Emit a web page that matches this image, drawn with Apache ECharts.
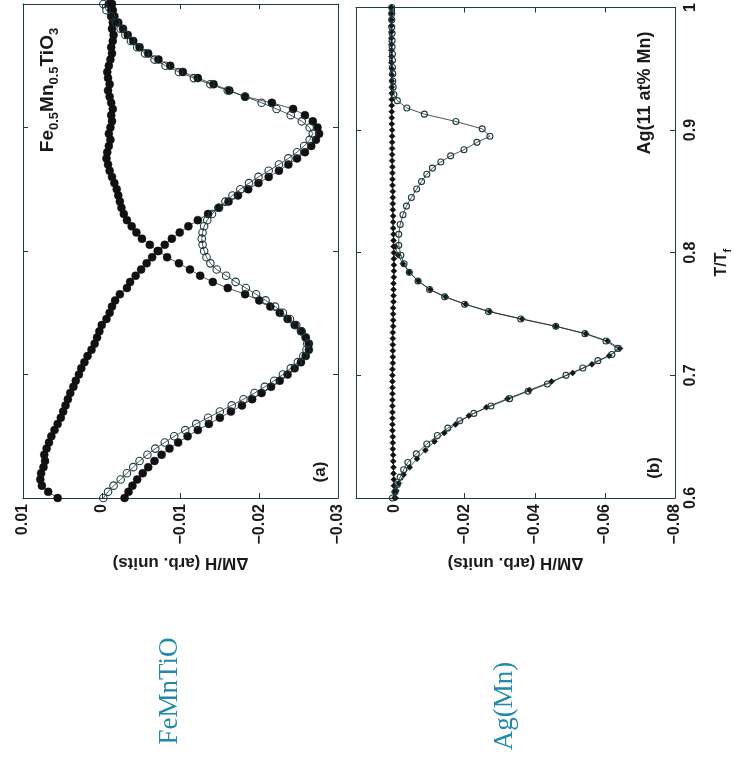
<!DOCTYPE html>
<html>
<head>
<meta charset="utf-8">
<title>ΔM/H vs T/Tf</title>
<script src="https://cdn.jsdelivr.net/npm/echarts@6/dist/echarts.min.js"></script>
<style>
  html, body { margin: 0; padding: 0; background: #ffffff; }
  #chart { width: 734px; height: 760px; }
</style>
</head>
<body>
<div id="chart"></div>
<script>
// Reduced temperature grid shared by the dense data sets
const tGrid = [
  0.600, 0.605, 0.610, 0.615, 0.620, 0.625, 0.630, 0.635, 0.640, 0.645,
  0.650, 0.655, 0.660, 0.665, 0.670, 0.675, 0.680, 0.685, 0.690, 0.695,
  0.700, 0.705, 0.710, 0.715, 0.720, 0.725, 0.730, 0.735, 0.740, 0.745,
  0.750, 0.755, 0.760, 0.765, 0.770, 0.775, 0.780, 0.785, 0.790, 0.795,
  0.800, 0.805, 0.810, 0.815, 0.820, 0.825, 0.830, 0.835, 0.840, 0.845,
  0.850, 0.855, 0.860, 0.865, 0.870, 0.875, 0.880, 0.885, 0.890, 0.895,
  0.900, 0.905, 0.910, 0.915, 0.920, 0.925, 0.930, 0.935, 0.940, 0.945,
  0.950, 0.955, 0.960, 0.965, 0.970, 0.975, 0.980, 0.985, 0.990, 0.995,
  1.000
];

// (a) Fe0.5Mn0.5TiO3 — open circles (two stops)
const feOpen = [
  -0.0002, -0.0008, -0.0015, -0.0024, -0.0032, -0.0040, -0.0048, -0.0058, -0.0068, -0.0080,
  -0.0092, -0.0106, -0.0120, -0.0135, -0.0150, -0.0165, -0.0180, -0.0194, -0.0207, -0.0219,
  -0.0230, -0.0240, -0.0249, -0.0256, -0.0260, -0.0261, -0.0259, -0.0254, -0.0247, -0.0239,
  -0.0230, -0.0220, -0.0208, -0.0196, -0.0183, -0.0170, -0.0158, -0.0146, -0.0138, -0.0133,
  -0.0130, -0.0128, -0.0127, -0.0128, -0.0130, -0.0134, -0.0140, -0.0148, -0.0157, -0.0166,
  -0.0176, -0.0187, -0.0199, -0.0212, -0.0225, -0.0237, -0.0248, -0.0257, -0.0264, -0.0268,
  -0.0264, -0.0254, -0.0240, -0.0222, -0.0203, -0.0182, -0.0160, -0.0138, -0.0117, -0.0098,
  -0.0081, -0.0067, -0.0055, -0.0045, -0.0037, -0.0030, -0.0024, -0.0018, -0.0012, -0.0006,
  -0.0002
];

// (a) filled circles following both dips
const feFilledDip = [
  -0.0029, -0.0034, -0.0039, -0.0045, -0.0052, -0.0059, -0.0067, -0.0076, -0.0086, -0.0097,
  -0.0109, -0.0122, -0.0136, -0.0150, -0.0164, -0.0178, -0.0191, -0.0203, -0.0215, -0.0226,
  -0.0236, -0.0245, -0.0253, -0.0259, -0.0263, -0.0263, -0.0259, -0.0253, -0.0245, -0.0236,
  -0.0226, -0.0214, -0.0200, -0.0182, -0.0160, -0.0141, -0.0125, -0.0112, -0.0098, -0.0083,
  -0.0072, -0.0080, -0.0089, -0.0099, -0.0110, -0.0122, -0.0135, -0.0149, -0.0161, -0.0173,
  -0.0186, -0.0199, -0.0212, -0.0225, -0.0237, -0.0248, -0.0258, -0.0266, -0.0272, -0.0276,
  -0.0274, -0.0268, -0.0258, -0.0243, -0.0216, -0.0182, -0.0162, -0.0142, -0.0122, -0.0103,
  -0.0087, -0.0072, -0.0059, -0.0048, -0.0040, -0.0033, -0.0027, -0.0021, -0.0016, -0.0012,
  -0.0009
];

// (a) filled circles, monotonic reference
const feFilledRef = [
   0.0056,  0.0068,  0.0076,  0.0078,  0.0077,  0.0074,  0.0072,  0.0073,  0.0070,  0.0067,
   0.0064,  0.0060,  0.0056,  0.0052,  0.0049,  0.0046,  0.0043,  0.0040,  0.0036,  0.0033,
   0.0029,  0.0026,  0.0022,  0.0018,  0.0013,  0.0009,  0.0006,  0.0003,  0.0000, -0.0006,
  -0.0010, -0.0013, -0.0017, -0.0023, -0.0032, -0.0036, -0.0043, -0.0050, -0.0057, -0.0064,
  -0.0071, -0.0061, -0.0051, -0.0044, -0.0038, -0.0032, -0.0028, -0.0025, -0.0023, -0.0021,
  -0.0019, -0.0016, -0.0013, -0.0010, -0.0008, -0.0006, -0.0007, -0.0009, -0.0011, -0.0009,
  -0.0011, -0.0013, -0.0012, -0.0014, -0.0012, -0.0010, -0.0008, -0.0010, -0.0008, -0.0007,
  -0.0009, -0.0011, -0.0013, -0.0012, -0.0014, -0.0015, -0.0013, -0.0014, -0.0012, -0.0014,
  -0.0013
];

// (b) Ag(11 at% Mn) — filled diamonds, flat reference
const agFilledFlat = [
  0.0000, 0.0001, 0.0002, 0.0002, 0.0003, 0.0003, 0.0004, 0.0004, 0.0005, 0.0005,
  0.0005, 0.0006, 0.0006, 0.0006, 0.0006, 0.0006, 0.0006, 0.0006, 0.0006, 0.0006,
  0.0006, 0.0006, 0.0005, 0.0005, 0.0005, 0.0005, 0.0005, 0.0005, 0.0004, 0.0004,
  0.0004, 0.0004, 0.0003, 0.0003, 0.0003, 0.0003, 0.0002, 0.0002, 0.0002, 0.0002,
  0.0002, 0.0003, 0.0003, 0.0003, 0.0004, 0.0004, 0.0004, 0.0005, 0.0005, 0.0005,
  0.0005, 0.0006, 0.0006, 0.0006, 0.0006, 0.0007, 0.0007, 0.0007, 0.0007, 0.0007,
  0.0007, 0.0008, 0.0008, 0.0008, 0.0008, 0.0008, 0.0008, 0.0008, 0.0008, 0.0008,
  0.0008, 0.0009, 0.0009, 0.0009, 0.0009, 0.0009, 0.0009, 0.0009, 0.0009, 0.0009,
  0.0009
];

// (b) open circles (two stops)
const agOpenT = [
  0.600, 0.605, 0.611, 0.617, 0.623, 0.629, 0.636, 0.644, 0.651, 0.657,
  0.663, 0.669, 0.675, 0.681, 0.687, 0.693, 0.700, 0.706, 0.712, 0.717,
  0.722, 0.728, 0.734, 0.740, 0.746, 0.752, 0.758, 0.764, 0.770, 0.777,
  0.784, 0.791, 0.798, 0.806, 0.815, 0.823, 0.831, 0.838, 0.845, 0.852,
  0.858, 0.864, 0.869, 0.874, 0.879, 0.884, 0.890, 0.895, 0.901, 0.907,
  0.913, 0.918, 0.924, 0.929, 0.935, 0.940, 0.946, 0.951, 0.957, 0.962,
  0.968, 0.973, 0.979, 0.984, 0.990, 0.995, 1.000
];
const agOpen = [
   0.0006, -0.0002, -0.0008, -0.0016, -0.0026, -0.0038, -0.0062, -0.0092, -0.0122, -0.0152,
  -0.0186, -0.0226, -0.0275, -0.0328, -0.0381, -0.0436, -0.0489, -0.0537, -0.0580, -0.0620,
  -0.0637, -0.0603, -0.0543, -0.0460, -0.0360, -0.0268, -0.0200, -0.0143, -0.0100, -0.0067,
  -0.0042, -0.0027, -0.0018, -0.0012, -0.0012, -0.0016, -0.0024, -0.0034, -0.0048, -0.0063,
  -0.0077, -0.0092, -0.0108, -0.0132, -0.0160, -0.0198, -0.0235, -0.0272, -0.0250, -0.0175,
  -0.0085, -0.0035, -0.0008,  0.0002,  0.0004,  0.0005,  0.0005,  0.0006,  0.0006,  0.0006,
   0.0007,  0.0007,  0.0007,  0.0008,  0.0008,  0.0008,  0.0008
];

// (b) filled diamonds following the lower dip
const agFilledDipT = [
  0.600, 0.606, 0.612, 0.619, 0.625, 0.632, 0.639, 0.646, 0.653, 0.660,
  0.667, 0.674, 0.681, 0.688, 0.695, 0.702, 0.709, 0.716, 0.722, 0.728,
  0.734, 0.740, 0.746, 0.752, 0.758, 0.764, 0.770, 0.777, 0.784, 0.791,
  0.798, 0.805
];
const agFilledDip = [
  -0.0003, -0.0005, -0.0012, -0.0026, -0.0043, -0.0064, -0.0088, -0.0114, -0.0142, -0.0174,
  -0.0212, -0.0262, -0.0322, -0.0385, -0.0448, -0.0508, -0.0563, -0.0612, -0.0643, -0.0608,
  -0.0546, -0.0460, -0.0364, -0.0272, -0.0203, -0.0146, -0.0102, -0.0068, -0.0042, -0.0024,
  -0.0010, -0.0002
];

// Tick positions
const feTicks = [-0.03, -0.02, -0.01, 0, 0.01];
const agTicks = [-0.08, -0.06, -0.04, -0.02, 0];
const tTicks = [0.6, 0.7, 0.8, 0.9, 1];

const AXIS_COLOR = '#1c3c3f';
const INK = '#1a1a1a';
const SANS = '"Liberation Sans", Arial, Helvetica, sans-serif';

const toPairs = (ts, vs) => ts.map((t, i) => [vs[i], t]);
const fmtValue = v => String(+(+v).toFixed(3)).replace('-', '\u2212');

function valueAxis(gridIndex, pos, min, max, ticks, withLabels) {
  const ax = {
    gridIndex: gridIndex,
    type: 'value',
    position: pos,
    inverse: true,
    min: min,
    max: max,
    axisLine: { show: true, onZero: false, lineStyle: { color: AXIS_COLOR, width: 1 } },
    axisTick: { show: true, inside: true, length: 5, customValues: ticks,
                lineStyle: { color: AXIS_COLOR, width: 1 } },
    axisLabel: { show: false },
    splitLine: { show: false }
  };
  if (withLabels) {
    ax.axisLabel = {
      show: true, rotate: 90, customValues: ticks, margin: 6,
      formatter: fmtValue, fontSize: 16, fontWeight: 'bold', color: INK, fontFamily: SANS
    };
    ax.name = '\u0394M/H (arb. units)';
    ax.nameLocation = 'middle';
    ax.nameRotate = 180;
    ax.nameGap = 56;
    ax.nameTextStyle = { fontSize: 17, fontWeight: 'bold', color: INK, fontFamily: SANS };
  }
  return ax;
}

function tempAxis(gridIndex, pos, withLabels) {
  const ax = {
    gridIndex: gridIndex,
    type: 'value',
    position: pos,
    min: 0.6,
    max: 1,
    interval: 0.1,
    axisLine: { show: true, onZero: false, lineStyle: { color: AXIS_COLOR, width: 1 } },
    axisTick: { show: true, inside: true, length: 5, customValues: tTicks,
                lineStyle: { color: AXIS_COLOR, width: 1 } },
    axisLabel: { show: false },
    splitLine: { show: false }
  };
  if (withLabels) {
    ax.axisLabel = {
      show: true, rotate: 90, customValues: tTicks, margin: 8,
      formatter: v => String(+(+v).toFixed(1)),
      fontSize: 16, fontWeight: 'bold', color: INK, fontFamily: SANS
    };
    ax.name = '{m|T/T}{s|f}';
    ax.nameLocation = 'middle';
    ax.nameRotate = 90;
    ax.nameGap = 36;
    ax.nameTextStyle = {
      fontFamily: SANS, color: INK,
      padding: [0, 20, 0, 0],
      rich: {
        m: { fontSize: 16, fontWeight: 'bold', lineHeight: 22, fontFamily: SANS, color: INK },
        s: { fontSize: 11, fontWeight: 'bold', lineHeight: 22, verticalAlign: 'bottom',
             fontFamily: SANS, color: INK }
      }
    };
  }
  return ax;
}

function dataSeries(xi, yi, data, kind, size) {
  const filled = kind !== 'open';
  return {
    type: 'line',
    xAxisIndex: xi,
    yAxisIndex: yi,
    data: data,
    symbol: kind === 'diamond' ? 'diamond' : 'circle',
    symbolSize: size,
    showAllSymbol: true,
    animation: false,
    lineStyle: { color: '#1e2a2b', width: 0.8 },
    itemStyle: filled
      ? { color: '#111111', borderColor: '#111111', borderWidth: 0.5 }
      : { color: 'rgba(255,255,255,0)', borderColor: '#1d3a3d', borderWidth: 1.1 },
    emphasis: { disabled: true },
    z: filled ? 2 : 3
  };
}

const chart = echarts.init(document.getElementById('chart'), null, { renderer: 'canvas' });

chart.setOption({
  backgroundColor: '#ffffff',
  animation: false,
  grid: [
    { left: 23, top: 4, width: 315, height: 494, containLabel: false },
    { left: 356, top: 4, width: 322, height: 494, containLabel: false }
  ],
  xAxis: [
    valueAxis(0, 'bottom', -0.03, 0.01, feTicks, true),
    valueAxis(0, 'top', -0.03, 0.01, feTicks, false),
    valueAxis(1, 'bottom', -0.08, 0.011, agTicks, true),
    valueAxis(1, 'top', -0.08, 0.011, agTicks, false)
  ],
  yAxis: [
    tempAxis(0, 'left', false),
    tempAxis(0, 'right', false),
    tempAxis(1, 'left', false),
    tempAxis(1, 'right', true)
  ],
  series: [
    dataSeries(0, 0, toPairs(tGrid, feFilledRef), 'filled', 8),
    dataSeries(0, 0, toPairs(tGrid, feFilledDip), 'filled', 8),
    dataSeries(0, 0, toPairs(tGrid, feOpen), 'open', 7.5),
    dataSeries(2, 2, toPairs(tGrid, agFilledFlat), 'diamond', 6),
    dataSeries(2, 2, toPairs(agFilledDipT, agFilledDip), 'diamond', 6),
    dataSeries(2, 2, toPairs(agOpenT, agOpen), 'open', 6)
  ],
  graphic: [
    {
      type: 'text', x: 48, y: 90, rotation: Math.PI / 2,
      style: {
        text: '{m|Fe}{s|0.5}{m|Mn}{s|0.5}{m|TiO}{s|3}',
        align: 'center', verticalAlign: 'middle',
        rich: {
          m: { fontSize: 19, fontWeight: 'bold', lineHeight: 26, fontFamily: SANS, fill: INK },
          s: { fontSize: 13, fontWeight: 'bold', lineHeight: 26, verticalAlign: 'bottom',
               fontFamily: SANS, fill: INK }
        }
      }
    },
    {
      type: 'text', x: 320, y: 472, rotation: Math.PI / 2,
      style: { text: '(a)', align: 'center', verticalAlign: 'middle',
               fontSize: 17, fontWeight: 'bold', fontFamily: SANS, fill: INK }
    },
    {
      type: 'text', x: 645, y: 93, rotation: Math.PI / 2,
      style: { text: 'Ag(11 at% Mn)', align: 'center', verticalAlign: 'middle',
               fontSize: 18, fontWeight: 'bold', fontFamily: SANS, fill: INK }
    },
    {
      type: 'text', x: 654, y: 468, rotation: Math.PI / 2,
      style: { text: '(b)', align: 'center', verticalAlign: 'middle',
               fontSize: 17, fontWeight: 'bold', fontFamily: SANS, fill: INK }
    },
    {
      type: 'text', x: 170, y: 691, rotation: Math.PI / 2,
      style: { text: 'FeMnTiO', align: 'center', verticalAlign: 'middle',
               fontSize: 27, fontFamily: '"Liberation Serif", "Times New Roman", serif',
               fill: '#2389a8' }
    },
    {
      type: 'text', x: 505, y: 706, rotation: Math.PI / 2,
      style: { text: 'Ag(Mn)', align: 'center', verticalAlign: 'middle',
               fontSize: 27, fontFamily: '"Liberation Serif", "Times New Roman", serif',
               fill: '#2389a8' }
    }
  ]
});
</script>
</body>
</html>
